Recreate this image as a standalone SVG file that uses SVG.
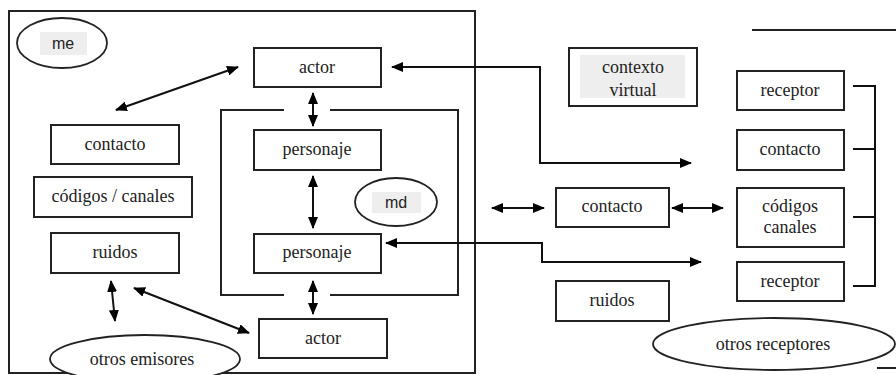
<svg xmlns="http://www.w3.org/2000/svg" width="896" height="375" viewBox="0 0 896 375">
<defs>
<marker id="ah" viewBox="0 0 12 10" refX="11" refY="5" markerWidth="12" markerHeight="10" markerUnits="userSpaceOnUse" orient="auto-start-reverse">
<path d="M0,0 L12,5 L0,10 z" fill="#000"/>
</marker>
</defs>
<style>
.box{fill:#fff;stroke:#222;stroke-width:2}
.frame{fill:none;stroke:#222;stroke-width:2}
.ell{fill:#fff;stroke:#222;stroke-width:1.8}
.gray{fill:#eeeeee;stroke:none}
.t{font-family:"Liberation Serif","DejaVu Serif",serif;font-size:18px;fill:#222;text-anchor:middle}
.s{font-family:"Liberation Sans",sans-serif;font-size:16px;fill:#222;text-anchor:middle}
.c{fill:none;stroke:#111;stroke-width:2}
.a{fill:none;stroke:#111;stroke-width:2;marker-start:url(#ah);marker-end:url(#ah)}
</style>
<rect width="896" height="375" fill="#fff"/>
<g id="frames">
<path class="frame" d="M9,373 L9,11 L475,11 L475,373 Z"/>
<path class="frame" d="M284,110 L221,110 L221,295 L284,295 M330,110 L458,110 L458,295 L330,295"/>
<path class="frame" d="M752,30 L896,30"/>
<path class="frame" d="M877,368 L896,368"/>
</g>
<g id="connectors">
<line class="a" x1="116" y1="110" x2="238" y2="67"/>
<line class="a" x1="313" y1="93" x2="313" y2="126"/>
<line class="a" x1="313" y1="176" x2="313" y2="228"/>
<line class="a" x1="313" y1="281" x2="313" y2="314"/>
<line class="a" x1="111" y1="281" x2="115" y2="321"/>
<line class="a" x1="134" y1="288" x2="249" y2="333"/>
<polyline class="a" points="392,67 540,67 540,163 691,163"/>
<polyline class="a" points="386,243 542,243 542,262 701,262"/>
<line class="a" x1="492" y1="208" x2="544" y2="208"/>
<line class="a" x1="672" y1="208" x2="723" y2="208"/>
<path class="c" d="M853,86 L875,86 L875,286 L853,286 M853,149 L875,149 M853,217 L875,217"/>
</g>
<g id="me">
<ellipse class="ell" cx="62" cy="43" rx="45" ry="25"/>
<rect class="gray" x="40" y="32" width="47" height="23"/>
<text class="s" x="63" y="49">me</text>
</g>
<g id="actor-top">
<rect class="box" x="254" y="48" width="127" height="39"/>
<text class="t" x="317" y="73">actor</text>
</g>
<g id="contacto-left">
<rect class="box" x="51" y="125" width="128" height="39"/>
<text class="t" x="115" y="150">contacto</text>
</g>
<g id="codigos-left">
<rect class="box" x="34" y="177" width="158" height="40"/>
<text class="t" x="113" y="202">códigos / canales</text>
</g>
<g id="ruidos-left">
<rect class="box" x="51" y="233" width="128" height="40"/>
<text class="t" x="115" y="258">ruidos</text>
</g>
<g id="personaje-top">
<rect class="box" x="254" y="130" width="127" height="40"/>
<text class="t" x="317" y="155">personaje</text>
</g>
<g id="md">
<ellipse class="ell" cx="396" cy="202" rx="41" ry="24"/>
<rect class="gray" x="372" y="192" width="49" height="21"/>
<text class="s" x="396" y="208">md</text>
</g>
<g id="personaje-bottom">
<rect class="box" x="254" y="234" width="127" height="39"/>
<text class="t" x="317" y="258">personaje</text>
</g>
<g id="actor-bottom">
<rect class="box" x="259" y="319" width="128" height="39"/>
<text class="t" x="323" y="344">actor</text>
</g>
<g id="otros-emisores">
<ellipse class="ell" cx="145" cy="359" rx="95" ry="24"/>
<text class="t" x="142" y="365">otros emisores</text>
</g>
<g id="contexto-virtual">
<rect class="box" x="569" y="48" width="128" height="58"/>
<rect class="gray" x="580" y="55" width="105" height="43"/>
<text class="t" x="633" y="73">contexto</text>
<text class="t" x="633" y="96">virtual</text>
</g>
<g id="receptor-top">
<rect class="box" x="737" y="71" width="107" height="39"/>
<text class="t" x="790" y="96">receptor</text>
</g>
<g id="contacto-right">
<rect class="box" x="737" y="130" width="107" height="40"/>
<text class="t" x="790" y="155">contacto</text>
</g>
<g id="codigos-right">
<rect class="box" x="737" y="188" width="107" height="59"/>
<text class="t" x="790" y="212">códigos</text>
<text class="t" x="790" y="233">canales</text>
</g>
<g id="receptor-bottom">
<rect class="box" x="737" y="262" width="107" height="39"/>
<text class="t" x="790" y="287">receptor</text>
</g>
<g id="contacto-mid">
<rect class="box" x="556" y="188" width="113" height="39"/>
<text class="t" x="612" y="212">contacto</text>
</g>
<g id="ruidos-mid">
<rect class="box" x="556" y="281" width="113" height="40"/>
<text class="t" x="612" y="306">ruidos</text>
</g>
<g id="otros-receptores">
<ellipse class="ell" cx="774" cy="344" rx="121" ry="26"/>
<text class="t" x="773" y="350">otros receptores</text>
</g>
</svg>
